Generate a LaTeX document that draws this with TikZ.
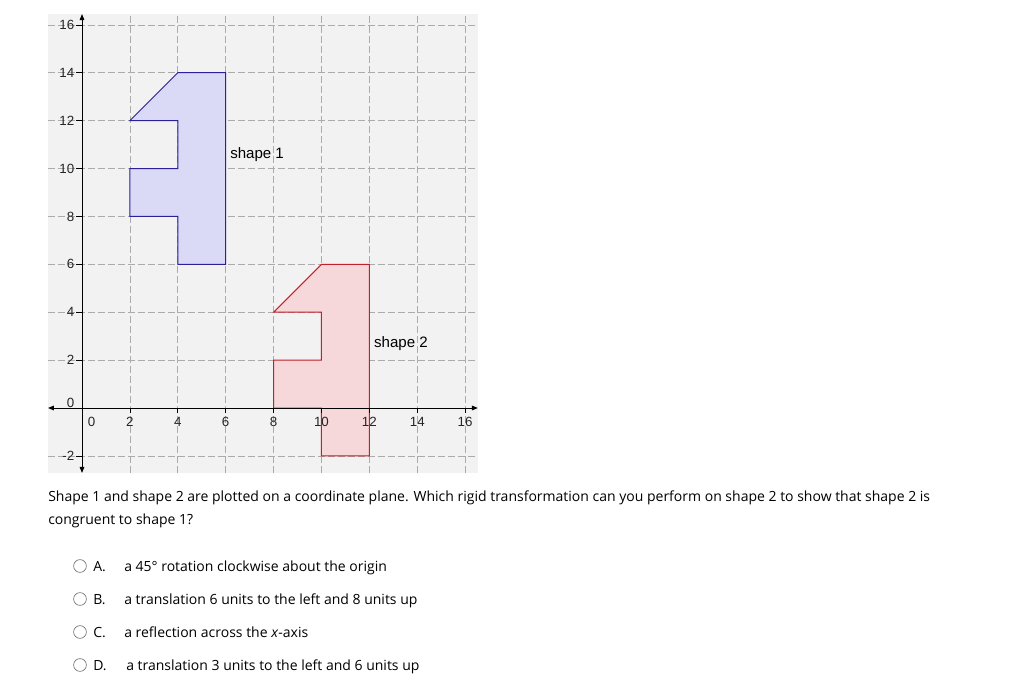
\documentclass[tikz,border=0pt]{standalone}
\usepackage{fontspec}
\setmainfont{Open Sans}
\newfontfamily\plotfont{Liberation Sans}
\usetikzlibrary{arrows.meta}
\definecolor{panelgrey}{HTML}{F2F2F2}
\definecolor{gridgrey}{HTML}{ABABAB}
\definecolor{oneFill}{HTML}{DADAF6}
\definecolor{oneLine}{HTML}{2B1F9C}
\definecolor{twoFill}{HTML}{F6D8DB}
\definecolor{twoLine}{HTML}{C41E2A}
\newcommand{\qsize}{\fontsize{10.5}{18}\selectfont}

\begin{document}
\begin{tikzpicture}[x=0.75pt,y=-0.75pt,
    gridline/.style={gridgrey, dashed, dash pattern=on 5pt off 2.5pt, line width=0.5pt},
    axisline/.style={black, line width=0.7pt, {Triangle[length=4.5pt,width=3.5pt]}-{Triangle[length=4.5pt,width=3.5pt]}},
    ticklabel/.style={font=\plotfont\fontsize{10}{11}\selectfont, text=black!85, inner sep=0pt},
    shapelabel/.style={font=\plotfont\fontsize{11.3}{12}\selectfont, anchor=west, inner sep=0pt},
    radio/.style={circle, draw=black!55, line width=0.5pt, minimum size=9.6pt, inner sep=0pt},
    optlabel/.style={font=\qsize, anchor=base west, inner sep=0pt}]
  \useasboundingbox (0,0) rectangle (1014,696);
  % plot panel, one unit = 23.95px
  \begin{scope}[shift={(82,408)}, x=17.96pt, y=17.96pt]
    \fill[panelgrey] (-1.42,-2.71) rectangle (16.53,16.45);
    \foreach \k in {2,4,...,16}
      \draw[gridline] (\k,-2.71) -- (\k,16.45);
    \foreach \k in {-2,2,4,...,16}
      \draw[gridline] (-1.42,\k) -- (16.53,\k);
    % shapes
    \filldraw[fill=oneFill, draw=oneLine, line width=0.75pt]
      (2,12) -- (4,14) -- (6,14) -- (6,6) -- (4,6) -- (4,8) -- (2,8) -- (2,10) -- (4,10) -- (4,12) -- cycle;
    \filldraw[fill=twoFill, draw=twoLine, line width=0.75pt]
      (8,4) -- (10,6) -- (12,6) -- (12,-2) -- (10,-2) -- (10,0) -- (8,0) -- (8,2) -- (10,2) -- (10,4) -- cycle;
    % axes
    \coordinate (xlo) at (-1.42,0);
    \coordinate (xhi) at (16.53,0);
    \coordinate (ylo) at (0,-2.71);
    \coordinate (yhi) at (0,16.45);
    \draw[axisline] (xlo) -- (xhi);
    \draw[axisline] (ylo) -- (yhi);
    \foreach \k in {2,4,...,16} {
      \draw[line width=0.5pt] (\k,0) -- (\k,-0.2);
      \node[ticklabel] (xt\k) at (\k,-0.58) {\k};
    }
    \foreach \k in {-2,2,4,...,16} {
      \draw[line width=0.5pt] (-0.25,\k) -- (0,\k);
      \node[ticklabel, anchor=east] (yt\k) at (-0.31,\k) {\k};
    }
    \node[ticklabel] (xt0) at (0.4,-0.58) {0};
    \node[ticklabel] (yt0) at (-0.48,0.21) {0};
    \node[shapelabel] (lab1) at (6.18,10.6) {shape 1};
    \node[shapelabel] (lab2) at (12.19,2.68) {shape 2};
  \end{scope}
  % question
  \node[optlabel] (question) at (48,501)
    {Shape 1 and shape 2 are plotted on a coordinate plane. Which rigid transformation can you perform on shape 2 to show that shape 2 is};
  \node[optlabel] (question2) at (48,524) {congruent to shape 1?};
  % answer choices
  \node[radio] (rA) at (80,566) {};
  \node[radio] (rB) at (80,599) {};
  \node[radio] (rC) at (80,632) {};
  \node[radio] (rD) at (80,665) {};
  \node[optlabel] (kA) at (93,571) {A.};
  \node[optlabel] (kB) at (93,604) {B.};
  \node[optlabel] (kC) at (93,637) {C.};
  \node[optlabel] (kD) at (93,670) {D.};
  \node[optlabel] (tA) at (124,571) {a 45° rotation clockwise about the origin};
  \node[optlabel] (tB) at (124,604) {a translation 6 units to the left and 8 units up};
  \node[optlabel] (tC) at (124,637) {a reflection across the \textit{x}-axis};
  \node[optlabel] (tD) at (126,670) {a translation 3 units to the left and 6 units up};
\end{tikzpicture}
\end{document}
